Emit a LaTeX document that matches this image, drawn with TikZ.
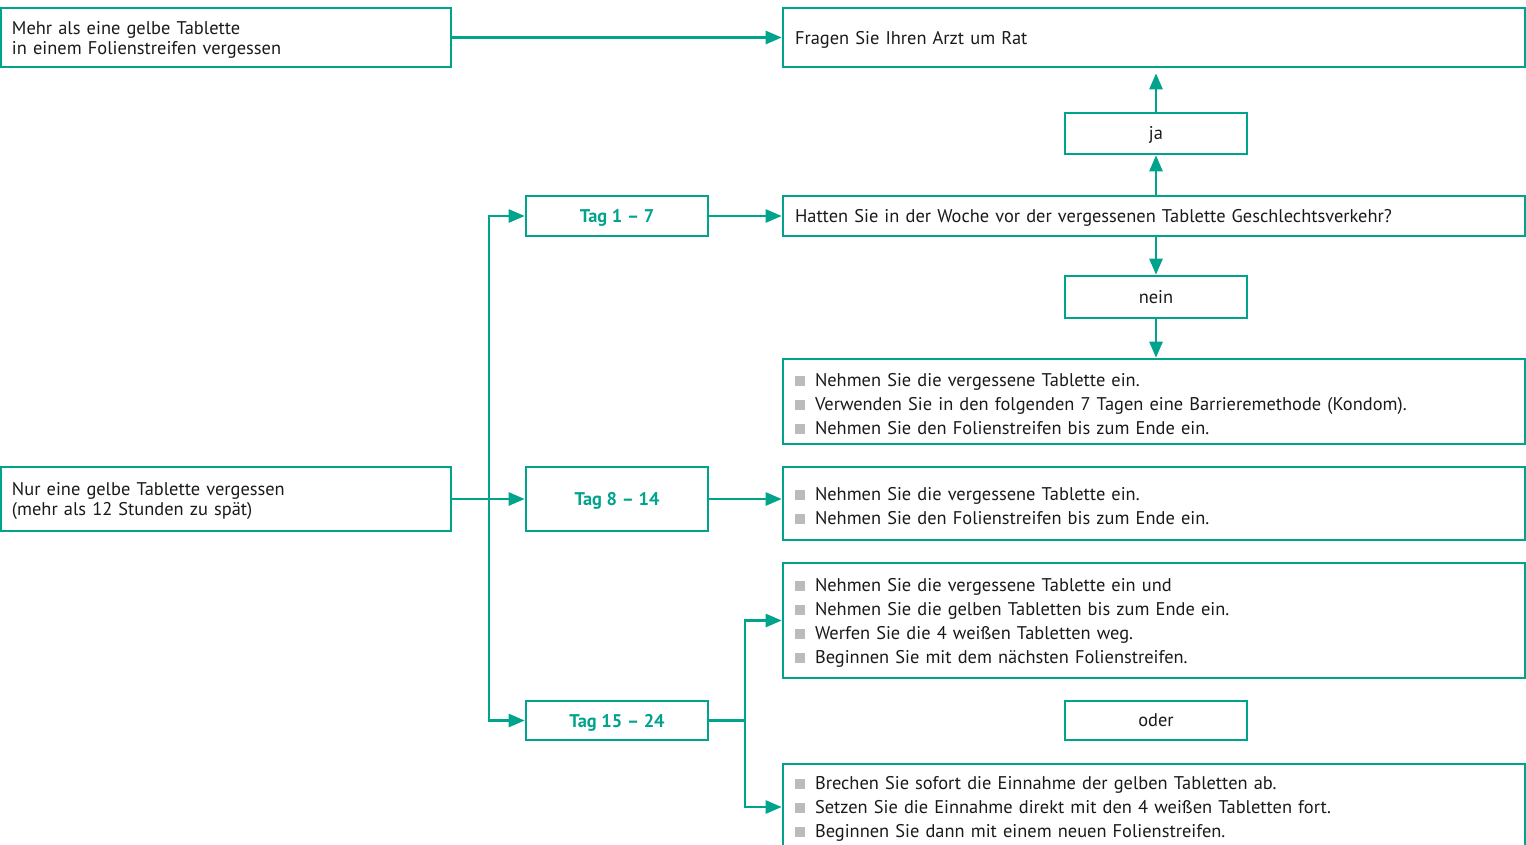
\documentclass[tikz,border=0pt]{standalone}
\usepackage{fontspec}
\setmainfont{PT Sans}
\usetikzlibrary{arrows.meta}
\definecolor{teal}{HTML}{00A38B}
\definecolor{txt}{HTML}{1A1A1A}
\definecolor{bgray}{HTML}{BBBBBE}
\newcommand{\bitem}{\textcolor{bgray}{\rule[0.02em]{10pt}{10pt}}\hspace{10pt}}
\newcommand{\topstrut}{\leavevmode\vrule width 0pt height 17.5pt depth 0pt\relax}
\tikzset{
  box/.style={draw=teal, line width=2.6pt, rectangle, inner ysep=0pt, text=txt},
  lbox/.style={box, align=left, inner xsep=11pt, text width=428pt, minimum height=#1, font=\fontsize{18.4}{20}\selectfont, execute at begin node={\topstrut}},
  rbox/.style={box, align=left, inner xsep=12pt, text width=718pt, minimum height=#1, font=\fontsize{18.4}{24}\selectfont, execute at begin node={\topstrut}},
  tagbox/.style={box, minimum width=182pt, minimum height=#1, inner xsep=0pt, text height=13.2pt, text depth=0pt, font=\fontsize{18.4}{20}\selectfont\bfseries, text=teal},
  smallbox/.style={box, minimum width=182pt, minimum height=#1, inner xsep=0pt, text height=12.5pt, text depth=0pt, font=\fontsize{18.4}{20}\selectfont},
  arr/.style={draw=teal, line width=2.6pt, -{Triangle[length=16pt,width=13pt]}},
  ln/.style={draw=teal, line width=2.6pt},
}
\begin{document}
\begin{tikzpicture}[x=1pt,y=-1pt]
\useasboundingbox (0,0) rectangle (1526,844);
\clip (0,0) rectangle (1526,844);
\node[lbox=59pt] (mehr) at (226,37.5) {Mehr als eine gelbe Tablette\\in einem Folienstreifen vergessen};
\node[rbox=59pt] (fragen) at (1154,37.5) {Fragen Sie Ihren Arzt um Rat};
\node[smallbox=41pt] (ja) at (1156,133.5) {ja};
\node[rbox=40pt] (hatten) at (1154,216) {Hatten Sie in der Woche vor der vergessenen Tablette Geschlechtsverkehr?};
\node[tagbox=40pt] (tag17) at (617,216) {Tag 1 – 7};
\node[smallbox=42pt] (nein) at (1156,297) {nein};
\node[rbox=85pt] (b1) at (1154,401.5) {\bitem Nehmen Sie die vergessene Tablette ein.\\\bitem Verwenden Sie in den folgenden 7 Tagen eine Barrieremethode (Kondom).\\\bitem Nehmen Sie den Folienstreifen bis zum Ende ein.};
\node[lbox=64pt] (nur) at (226,499) {Nur eine gelbe Tablette vergessen\\(mehr als 12 Stunden zu spät)};
\node[tagbox=64pt] (tag814) at (617,499) {Tag 8 – 14};
\node[rbox=73pt] (b2) at (1154,503.5) {\bitem Nehmen Sie die vergessene Tablette ein.\\\bitem Nehmen Sie den Folienstreifen bis zum Ende ein.};
\node[rbox=115pt] (b3) at (1154,620.5) {\bitem Nehmen Sie die vergessene Tablette ein und\\\bitem Nehmen Sie die gelben Tabletten bis zum Ende ein.\\\bitem Werfen Sie die 4 weißen Tabletten weg.\\\bitem Beginnen Sie mit dem nächsten Folienstreifen.};
\node[tagbox=39pt] (tag1524) at (617,720.5) {Tag 15 – 24};
\node[smallbox=39pt] (oder) at (1156,720.5) {oder};
\node[rbox=86pt] (b4) at (1154,807) {\bitem Brechen Sie sofort die Einnahme der gelben Tabletten ab.\\\bitem Setzen Sie die Einnahme direkt mit den 4 weißen Tabletten fort.\\\bitem Beginnen Sie dann mit einem neuen Folienstreifen.};
% connectors
\draw[arr] (mehr.east) -- (fragen.west);
\draw[arr, shorten >=5pt] (ja.north) -- (ja.north |- fragen.south);
\draw[arr] (hatten.north -| ja.south) -- (ja.south);
\draw[arr] (hatten.south -| nein.north) -- (nein.north);
\draw[arr] (nein.south) -- (nein.south |- b1.north);
\coordinate (trtop) at (489,216);
\coordinate (trbot) at (489,720.5);
\draw[arr] (trbot) -- (trtop) -- (tag17.west);
\draw[arr] (trtop) -- (trbot) -- (tag1524.west);
\draw[arr] (nur.east) -- (tag814.west);
\draw[arr] (tag17.east) -- (hatten.west);
\draw[arr] (tag814.east) -- (tag814.east -| b2.west);
\coordinate (sp) at (745,720.5);
\draw[ln] (tag1524.east) -- (sp);
\draw[arr] (sp) |- (b3.west);
\draw[arr] (sp) |- (b4.west);
\end{tikzpicture}
\end{document}
